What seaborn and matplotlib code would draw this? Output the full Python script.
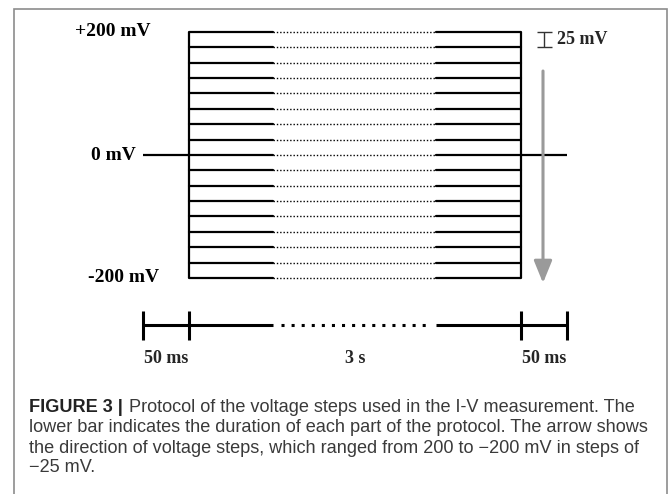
import matplotlib
matplotlib.use("Agg")
import numpy as np
import pandas as pd
import matplotlib.pyplot as plt
import seaborn as sns
from matplotlib import font_manager
from matplotlib.patches import Rectangle

# voltage steps of the I-V protocol (mV)
voltages_mv = [200, 175, 150, 125, 100, 75, 50, 25, 0,
               -25, -50, -75, -100, -125, -150, -175, -200]
holding_mv = 0
step_size_mv = 25
level_labels = ["+200 mV", "0 mV", "-200 mV"]
level_values = [200, 0, -200]
phase_labels = ["50 ms", "3 s", "50 ms"]
caption_lines = [
    " Protocol of the voltage steps used in the I-V measurement. The",
    "lower bar indicates the duration of each part of the protocol. The arrow shows",
    "the direction of voltage steps, which ranged from 200 to \u2212200 mV in steps of",
    "\u221225 mV.",
]

# schematic x layout, in pixels of the 669 px wide figure
X_HOLD0, X_STEP0, X_DOT0, X_DOT1, X_STEP1, X_HOLD1 = 143, 189, 273, 436, 521, 567
W, H = 669, 494
TOP_PX, BOT_PX = 32, 278          # where +200 and -200 mV sit
px_per_mv = (BOT_PX - TOP_PX) / (max(voltages_mv) - min(voltages_mv))

sns.set_style("white")
plt.rcParams["font.family"] = ["Liberation Serif", "DejaVu Serif"]
serif_bold = dict(fontweight="bold", fontsize=14, color="black")

fig = plt.figure(figsize=(W / 100, H / 100), dpi=100)
ax = fig.add_axes([0, 0, 1, 1])
ax.set_xlim(0, W)
ax.set_ylim(max(voltages_mv) - (H - TOP_PX) / px_per_mv,
            max(voltages_mv) + TOP_PX / px_per_mv)
ax.axis("off")

# long-form tables for the step lines
solid_rows, dot_rows = [], []
for v in voltages_mv:
    solid_rows += [(X_STEP0, v, f"{v}a"), (X_DOT0, v, f"{v}a"),
                   (X_DOT1, v, f"{v}b"), (X_STEP1, v, f"{v}b")]
    dot_rows += [(X_DOT0, v, f"{v}"), (X_DOT1, v, f"{v}")]
solid = pd.DataFrame(solid_rows, columns=["x", "mV", "seg"])
dots = pd.DataFrame(dot_rows, columns=["x", "mV", "seg"])

sns.lineplot(data=solid, x="x", y="mV", units="seg", estimator=None,
             sort=False, color="black", lw=1.6, ax=ax, legend=False)
sns.lineplot(data=dots, x="x", y="mV", units="seg", estimator=None,
             sort=False, color="black", lw=1.0, linestyle=(0, (1, 1.4)),
             ax=ax, legend=False)

# box edges and holding potential
ax.vlines([X_STEP0, X_STEP1], min(voltages_mv), max(voltages_mv),
          color="black", lw=1.6)
ax.hlines([holding_mv, holding_mv], [X_HOLD0, X_STEP1], [X_STEP0, X_HOLD1],
          color="black", lw=1.6)

# direction arrow
ax.annotate("", xy=(543, min(voltages_mv) - 5 / px_per_mv),
            xytext=(543, max(voltages_mv) - 39 / px_per_mv),
            arrowprops=dict(arrowstyle="-|>,head_length=1.35,head_width=0.55",
                            color="#9a9a9a", lw=2.2, shrinkA=0, shrinkB=0),
            zorder=5)

# 25 mV scale bar
top = max(voltages_mv)
ax.vlines(544, top - step_size_mv, top, color="#333333", lw=1.0)
ax.hlines([top - step_size_mv, top], 537, 552, color="#333333", lw=1.0)
ax.text(557, top - step_size_mv / 2, f"{step_size_mv} mV", ha="left",
        va="center", fontweight="bold", fontsize=13)

# level labels
ax.text(113, level_values[0], level_labels[0], ha="center", va="center", **serif_bold)
ax.text(136, level_values[1], level_labels[1], ha="right", va="center", **serif_bold)
ax.text(123.5, level_values[2], level_labels[2], ha="center", va="center", **serif_bold)

# lower duration bar
bax = fig.add_axes([0, (H - 350) / H, 1, 50 / H])
bax.set_xlim(0, W)
bax.set_ylim(-1, 1)
bax.axis("off")
bax.hlines([0, 0], [X_HOLD0, X_DOT1], [X_DOT0, X_HOLD1], color="black", lw=2.2)
bax.hlines(0, X_DOT0 + 8, X_DOT1 - 4, color="black", lw=2.2,
           linestyle=(0, (1, 2.3)))
bax.vlines([X_HOLD0, X_STEP0, X_STEP1, X_HOLD1], -0.6, 0.56, color="black", lw=2.2)
centers = [(X_HOLD0 + X_STEP0) / 2, (X_STEP0 + X_STEP1) / 2, (X_STEP1 + X_HOLD1) / 2]
for cx, lab in zip(centers, phase_labels):
    fig.text(cx / W, (H - 358) / H, lab, ha="center", va="center",
             fontweight="bold", fontsize=13)

# panel frame
fig.add_artist(Rectangle((14 / W, -0.1), 653 / W, 1.1 - 9.5 / H,
                         transform=fig.transFigure, fill=False,
                         edgecolor="#8c8c8c", lw=1.2))

# caption
names = {f.name for f in font_manager.fontManager.ttflist}
cap_font = ["Liberation Sans Narrow"] if "Liberation Sans Narrow" in names else ["Liberation Sans"]
cap_font = cap_font + ["DejaVu Sans"]
fig.canvas.draw()
r = fig.canvas.get_renderer()
probe = fig.text(0, 0, caption_lines[1], family=cap_font, fontsize=11)
cap_size = 11 * 621 / probe.get_window_extent(r).width
probe.remove()

baselines = [411.7, 432, 452.5, 471.7]
head = fig.text(29 / W, (H - baselines[0]) / H, "FIGURE 3 |", family=cap_font,
                fontsize=cap_size, fontweight="bold", color="#222222", va="baseline")
hx = head.get_window_extent(r).x1
fig.text((hx + 1) / W, (H - baselines[0]) / H, caption_lines[0], family=cap_font,
         fontsize=cap_size, color="#3a3a3a", va="baseline")
for line, b in zip(caption_lines[1:], baselines[1:]):
    fig.text(29 / W, (H - b) / H, line, family=cap_font, fontsize=cap_size,
             color="#3a3a3a", va="baseline")

fig.savefig("out.png", dpi=100)
